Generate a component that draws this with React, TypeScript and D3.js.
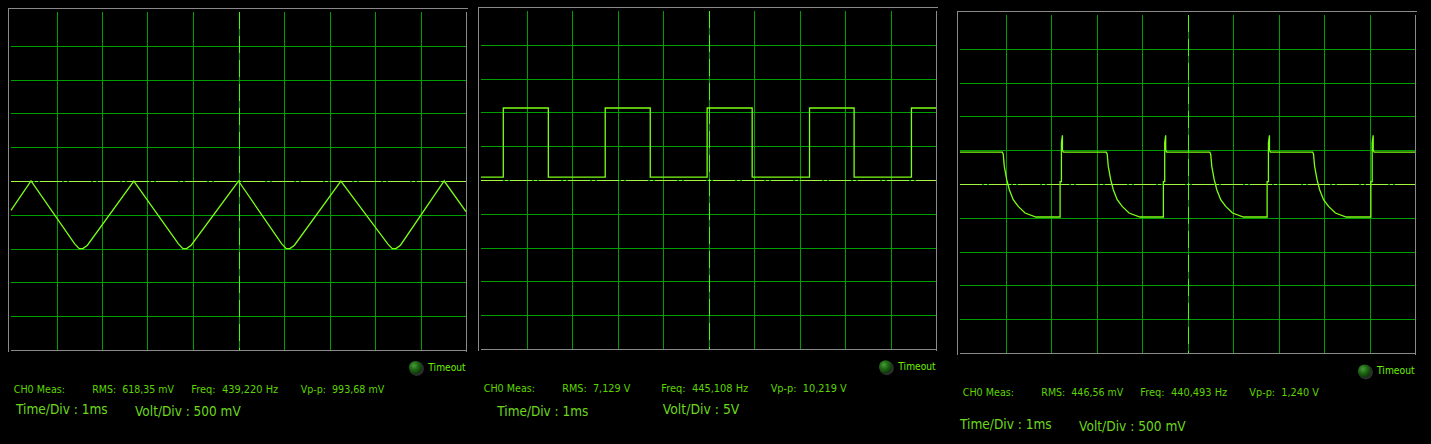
import React from "react";
import * as d3 from "d3";

// ---------- data ----------
// Panel 1: triangle wave (time in ms, volts)
const triTimes = [0, 0.44, 1.40, 1.50, 1.58, 1.68, 2.70, 3.68, 3.78, 3.86, 3.96, 5.0, 5.95, 6.05, 6.13, 6.23, 7.25, 8.28, 8.38, 8.46, 8.56, 9.52, 10];
const triVolts = [-0.433, 0, -0.93, -1.0, -1.0, -0.95, 0, -0.93, -1.0, -1.0, -0.95, 0, -0.93, -1.0, -1.0, -0.95, 0, -0.93, -1.0, -1.0, -0.95, 0, -0.454];

// Panel 2: square wave, step-after points
const sqTimes = [0, 0.49, 1.48, 2.73, 3.72, 4.97, 5.96, 7.22, 8.20, 9.46, 10];
const sqVolts = [0.44, 10.65, 0.44, 10.65, 0.44, 10.65, 0.44, 10.65, 0.44, 10.65, 10.65];

// Panel 3: RC-filtered square wave
const rcHigh = 0.473;
const rcLow = -0.488;
const rcFallTimes = [0.93, 3.215, 5.49, 7.75];
const rcRiseTimes = [2.2, 4.47, 6.75, 9.03];
const decayDt = [0, 0.02, 0.044, 0.097, 0.154, 0.24, 0.35, 0.5, 0.74];
const decayVolts = [0.473, 0.44, 0.26, 0.064, -0.084, -0.232, -0.331, -0.429, -0.488];
const riseDt = [0, 0, 0.029, 0.029, 0.051, 0.051, 0.073];
const riseVolts = [-0.488, 0.034, 0.034, 0.61, 0.72, 0.5, 0.473];

const panelLabels = [
  { meas: "CH0 Meas:", rms: "RMS:  618,35 mV", freq: "Freq:  439,220 Hz", vpp: "Vp-p:  993,68 mV", time: "Time/Div : 1ms", volt: "Volt/Div : 500 mV" },
  { meas: "CH0 Meas:", rms: "RMS:  7,129 V", freq: "Freq:  445,108 Hz", vpp: "Vp-p:  10,219 V", time: "Time/Div : 1ms", volt: "Volt/Div : 5V" },
  { meas: "CH0 Meas:", rms: "RMS:  446,56 mV", freq: "Freq:  440,493 Hz", vpp: "Vp-p:  1,240 V", time: "Time/Div : 1ms", volt: "Volt/Div : 500 mV" },
];
const voltPerDiv = [0.5, 5, 0.5];

// ---------- layout ----------
const W = 1431;
const H = 444;
const panels = [
  { L: 11, R: 466, T: 12, B: 350 },
  { L: 481, R: 936, T: 11, B: 349 },
  { L: 960, R: 1415, T: 15, B: 353 },
];
// text placements: [x, baseline, width]
const textPos = [
  {
    meas: [13.7, 393.3, 51.3], rms: [92.3, 393.3, 81.7], freq: [191.3, 393.3, 87], vpp: [300.7, 393.3, 83.6],
    timeout: [428.3, 370.7, 37.4], led: [415.5, 367.5],
    time: [16, 414, 91.7], volt: [135, 415.7, 105.7],
  },
  {
    meas: [483.7, 392.3, 51.3], rms: [562.3, 392.3, 68], freq: [661.3, 392.3, 87], vpp: [770.7, 392.3, 76],
    timeout: [898.3, 370, 37.4], led: [885.5, 366.8],
    time: [497.3, 416, 91], volt: [662.7, 414, 76.7],
  },
  {
    meas: [962.7, 396, 51.3], rms: [1041.3, 396, 82], freq: [1140.3, 396, 87], vpp: [1249.3, 396, 69.7],
    timeout: [1377, 374, 37.6], led: [1364.5, 371],
    time: [960, 429.3, 91.7], volt: [1079, 430.7, 106.7],
  },
];

const GRID = "#009f00";
const TRACE = "#7cff14";
const CENTER_H = "#a6f540";
const FRAME = "#8a8a8a";
const TXT_SMALL = "#5ed400";
const TXT_BIG = "#6cd81c";
const FONT = "Tahoma, 'DejaVu Sans', Verdana, sans-serif";

function buildRC(): [number, number][] {
  const pts: [number, number][] = [[0, rcHigh]];
  rcFallTimes.forEach((f, i) => {
    decayDt.forEach((dt, j) => pts.push([f + dt, decayVolts[j]]));
    const r = rcRiseTimes[i];
    pts.push([r, rcLow]);
    riseDt.forEach((dt, j) => pts.push([r + dt, riseVolts[j]]));
  });
  pts.push([10, rcHigh]);
  return pts;
}

function Panel({ idx }: { idx: number }) {
  const p = panels[idx];
  const vd = voltPerDiv[idx];
  const x = d3.scaleLinear().domain([0, 10]).range([p.L, p.R]);
  const y = d3.scaleLinear().domain([-5 * vd, 5 * vd]).range([p.B, p.T]);
  const xt = d3.range(1, 10);
  const yt = d3.range(-4, 5).map((d) => d * vd);

  let path = "";
  if (idx === 0) {
    const pts = triTimes.map((t, i) => [t, triVolts[i]] as [number, number]);
    path = d3.line<[number, number]>().x((d) => x(d[0])).y((d) => y(d[1]))(pts) || "";
  } else if (idx === 1) {
    const pts = sqTimes.map((t, i) => [t, sqVolts[i]] as [number, number]);
    path = d3.line<[number, number]>().x((d) => x(d[0])).y((d) => y(d[1])).curve(d3.curveStepAfter)(pts) || "";
  } else {
    path = d3.line<[number, number]>().x((d) => x(d[0])).y((d) => y(d[1]))(buildRC()) || "";
  }

  const tp = textPos[idx];
  const lb = panelLabels[idx];
  const small = (key: "meas" | "rms" | "freq" | "vpp") => {
    const [tx, ty, tw] = tp[key] as number[];
    return (
      <text x={tx} y={ty} fontSize={10.5} fill={TXT_SMALL} fontFamily={FONT} textLength={tw}
        lengthAdjust="spacingAndGlyphs" style={{ whiteSpace: "pre" }}>{lb[key]}</text>
    );
  };
  const big = (key: "time" | "volt") => {
    const [tx, ty, tw] = tp[key] as number[];
    return (
      <text x={tx} y={ty} fontSize={13.8} fill={TXT_BIG} fontFamily={FONT} textLength={tw}
        lengthAdjust="spacingAndGlyphs" style={{ whiteSpace: "pre" }}>{lb[key]}</text>
    );
  };
  const [lx, ly] = tp.led as number[];
  const [ox, oy, ow] = tp.timeout as number[];
  const cx = x(5);
  const cy = y(0);

  return (
    <g>
      {/* grid */}
      {xt.map((t) => (
        <line key={"v" + t} x1={Math.round(x(t)) + 0.5} x2={Math.round(x(t)) + 0.5} y1={p.T} y2={p.B} stroke={GRID} strokeWidth={1} />
      ))}
      {yt.map((v) => (
        <line key={"h" + v} x1={p.L} x2={p.R} y1={Math.round(y(v)) + 0.5} y2={Math.round(y(v)) + 0.5} stroke={GRID} strokeWidth={1} />
      ))}
      {/* center lines */}
      <line x1={Math.round(cx) + 0.5} x2={Math.round(cx) + 0.5} y1={p.T} y2={p.B} stroke="#3cff00" strokeWidth={1} strokeDasharray="17,7" />
      <line x1={p.L} x2={p.R} y1={Math.round(cy) + 0.5} y2={Math.round(cy) + 0.5} stroke={CENTER_H} strokeWidth={1} strokeDasharray="22,2,3,2" />
      {/* frame */}
      <line x1={p.L - 3} x2={p.R + 2} y1={p.T - 3.5} y2={p.T - 3.5} stroke={FRAME} strokeWidth={1} />
      <line x1={p.L - 2.5} x2={p.L - 2.5} y1={p.T - 4} y2={p.B + 2} stroke={FRAME} strokeWidth={1} />
      <line x1={p.L} x2={p.R} y1={p.B + 0.5} y2={p.B + 0.5} stroke={FRAME} strokeWidth={1} />
      <line x1={p.R + 0.5} x2={p.R + 0.5} y1={p.T} y2={p.B + 2} stroke={FRAME} strokeWidth={1} />
      {/* trace */}
      <path d={path} fill="none" stroke={TRACE} strokeWidth={1.3} />
      {/* LED */}
      <circle cx={lx + 1.2} cy={ly + 1.2} r={7.2} fill="#2e2e2e" />
      <circle cx={lx} cy={ly} r={6.6} fill="url(#ledGrad)" />
      <text x={ox} y={oy} fontSize={10.5} fill="#6cf000" fontFamily={FONT} textLength={ow} lengthAdjust="spacingAndGlyphs">Timeout</text>
      {small("meas")}
      {small("rms")}
      {small("freq")}
      {small("vpp")}
      {big("time")}
      {big("volt")}
    </g>
  );
}

export default function App() {
  return (
    <svg width={W} height={H} viewBox={`0 0 ${W} ${H}`}
      style={{ position: "fixed", left: 0, top: 0, display: "block", background: "#000" }}>
      <defs>
        <radialGradient id="ledGrad" cx="0.38" cy="0.35" r="0.7">
          <stop offset="0" stopColor="#4c9a3c" />
          <stop offset="0.45" stopColor="#1f6a14" />
          <stop offset="1" stopColor="#0b300a" />
        </radialGradient>
      </defs>
      <rect x={0} y={0} width={W} height={H} fill="#000" />
      {[0, 1, 2].map((i) => (
        <Panel key={i} idx={i} />
      ))}
    </svg>
  );
}
